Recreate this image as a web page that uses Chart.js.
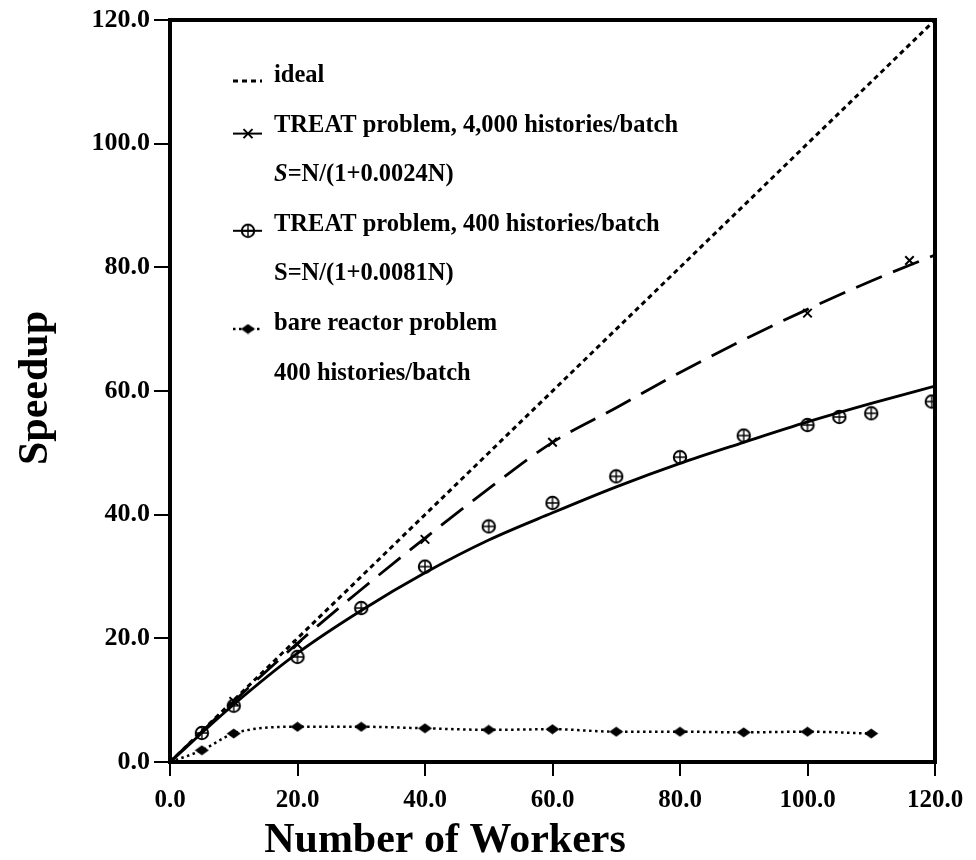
<!DOCTYPE html>
<html>
<head>
<meta charset="utf-8">
<title>Speedup vs Number of Workers</title>
<script src="https://cdn.jsdelivr.net/npm/chart.js@4.4.0/dist/chart.umd.min.js"></script>
<style>
  html, body { margin: 0; padding: 0; background: #fff; }
  canvas { display: block; }
</style>
</head>
<body>
<canvas id="speedupChart" width="976" height="860"></canvas>
<script>
// values
const idealWorkers = [0, 120];
const idealSpeedup = [0, 120];

const workers4000 = [0, 10, 20, 40, 60, 100, 116];
const speedup4000 = [0, 9.8, 19.0, 36.0, 51.7, 72.6, 81.1];

const workers400 = [5, 10, 20, 30, 40, 50, 60, 70, 80, 90, 100, 105, 110, 119.5];
const speedup400 = [4.7, 9.1, 17.0, 24.9, 31.6, 38.1, 41.9, 46.2, 49.3, 52.8, 54.5, 55.8, 56.4, 58.3];

// the two fitted curves
const fitWorkers = [0, 10, 20, 30, 40, 50, 60, 70, 80, 90, 100, 110, 120];
const fit4000 = [0, 9.8, 19.2, 27.9, 36.2, 44.2, 51.7, 57.3, 63.0, 68.3, 73.2, 77.8, 82.0];
const fit400 = [0, 9.3, 17.6, 24.5, 30.6, 35.9, 40.3, 44.5, 48.3, 51.7, 55.0, 58.0, 60.8];

const workersBare = [0, 5, 10, 20, 30, 40, 50, 60, 70, 80, 90, 100, 110];
const speedupBare = [0, 1.9, 4.6, 5.7, 5.7, 5.45, 5.2, 5.3, 4.9, 4.9, 4.8, 4.9, 4.6];

const xTitle = 'Number of Workers';
const yTitle = 'Speedup';

const legendRows = [
  { symbol: 'dash', text: 'ideal' },
  { symbol: 'cross', text: 'TREAT problem, 4,000 histories/batch' },
  { symbol: null, text: 'S=N/(1+0.0024N)', italicLead: true },
  { symbol: 'oplus', text: 'TREAT problem, 400 histories/batch' },
  { symbol: null, text: 'S=N/(1+0.0081N)' },
  { symbol: 'diamond', text: 'bare reactor problem' },
  { symbol: null, text: '400 histories/batch' }
];

const FONT = '"Liberation Serif", "Times New Roman", serif';

const toPoints = (xs, ys) => xs.map((x, i) => ({ x, y: ys[i] }));

const makeMarker = (w, h, draw) => {
  const c = document.createElement('canvas');
  c.width = w;
  c.height = h;
  draw(c.getContext('2d'), w, h);
  return c;
};

const oplusMarker = makeMarker(16, 16, (g) => {
  g.strokeStyle = '#000';
  g.lineWidth = 2;
  g.beginPath();
  g.arc(8, 8, 6.2, 0, Math.PI * 2);
  g.stroke();
  g.lineWidth = 1.4;
  g.beginPath();
  g.moveTo(2.5, 8); g.lineTo(13.5, 8);
  g.moveTo(8, 2.5); g.lineTo(8, 13.5);
  g.stroke();
});

const diamondMarker = makeMarker(15, 11, (g, w, h) => {
  g.fillStyle = '#000';
  g.beginPath();
  g.moveTo(0.5, h / 2);
  g.lineTo(w / 2, 0.5);
  g.lineTo(w - 0.5, h / 2);
  g.lineTo(w / 2, h - 0.5);
  g.closePath();
  g.fill();
});

const drawCross = (ctx, x, y, r) => {
  ctx.beginPath();
  ctx.moveTo(x - r, y - r); ctx.lineTo(x + r, y + r);
  ctx.moveTo(x - r, y + r); ctx.lineTo(x + r, y - r);
  ctx.stroke();
};

// thick box round the plot
const framePlugin = {
  id: 'frame',
  afterDatasetsDraw(chart) {
    const { ctx, chartArea: a } = chart;
    ctx.save();
    ctx.strokeStyle = '#000';
    ctx.lineWidth = 4;
    ctx.strokeRect(a.left, a.top, a.right - a.left, a.bottom - a.top);
    ctx.restore();
  }
};

const legendPlugin = {
  id: 'figureLegend',
  afterDraw(chart) {
    const { ctx } = chart;
    const symLeft = 233, symRight = 262, symMid = 248, textX = 274;
    const firstBaseline = 82, rowGap = 49.6;

    ctx.save();
    ctx.fillStyle = '#000';
    ctx.strokeStyle = '#000';
    ctx.textBaseline = 'alphabetic';

    legendRows.forEach((row, i) => {
      const y = firstBaseline + i * rowGap;

      if (row.symbol === 'dash') {
        ctx.lineWidth = 3;
        ctx.setLineDash([5, 4]);
        ctx.beginPath(); ctx.moveTo(symLeft, y - 1); ctx.lineTo(symRight, y - 1); ctx.stroke();
        ctx.setLineDash([]);
      }
      if (row.symbol === 'cross') {
        ctx.lineWidth = 2;
        ctx.beginPath(); ctx.moveTo(symLeft, y + 2); ctx.lineTo(symRight, y + 2); ctx.stroke();
        ctx.lineWidth = 2;
        drawCross(ctx, symMid, y + 2, 4.5);
      }
      if (row.symbol === 'oplus') {
        ctx.lineWidth = 2;
        ctx.beginPath(); ctx.moveTo(symLeft, y); ctx.lineTo(symRight, y); ctx.stroke();
        ctx.drawImage(oplusMarker, symMid - 8, y - 8);
      }
      if (row.symbol === 'diamond') {
        ctx.lineWidth = 2.5;
        ctx.setLineDash([2.5, 3.5]);
        ctx.beginPath(); ctx.moveTo(symLeft, y - 1); ctx.lineTo(symRight, y - 1); ctx.stroke();
        ctx.setLineDash([]);
        ctx.drawImage(diamondMarker, symMid - 7.5, y - 6.5);
      }

      let x = textX;
      let text = row.text;
      if (row.italicLead) {
        ctx.font = 'italic bold 24.5px ' + FONT;
        ctx.fillText(text[0], x, y);
        x += ctx.measureText(text[0]).width;
        text = text.slice(1);
      }
      ctx.font = 'bold 24.5px ' + FONT;
      ctx.fillText(text, x, y);
    });

    // axis titles
    ctx.font = 'bold 42px ' + FONT;
    ctx.textAlign = 'center';
    ctx.fillText(xTitle, 445, 852);

    ctx.translate(47, 388);
    ctx.rotate(-Math.PI / 2);
    ctx.fillText(yTitle, 0, 0);
    ctx.restore();
  }
};

const xTickFont = { family: FONT, size: 25, weight: 'bold' };
const yTickFont = { family: FONT, size: 26, weight: 'bold' };

const speedupChart = new Chart(document.getElementById('speedupChart'), {
  type: 'line',
  data: {
    datasets: [
      {
        label: 'ideal',
        data: toPoints(idealWorkers, idealSpeedup),
        borderColor: '#000',
        borderWidth: 3,
        borderDash: [5, 4],
        pointRadius: 0
      },
      {
        label: 'S=N/(1+0.0024N)',
        data: toPoints(fitWorkers, fit4000),
        borderColor: '#000',
        borderWidth: 2.8,
        borderDash: [28, 12],
        cubicInterpolationMode: 'monotone',
        pointRadius: 0
      },
      {
        label: 'S=N/(1+0.0081N)',
        data: toPoints(fitWorkers, fit400),
        borderColor: '#000',
        borderWidth: 2.8,
        cubicInterpolationMode: 'monotone',
        pointRadius: 0
      },
      {
        label: 'TREAT problem, 4,000 histories/batch',
        data: toPoints(workers4000, speedup4000),
        showLine: false,
        pointStyle: 'crossRot',
        pointRadius: 6,
        pointBorderWidth: 2,
        pointBorderColor: '#000'
      },
      {
        label: 'TREAT problem, 400 histories/batch',
        data: toPoints(workers400, speedup400),
        showLine: false,
        pointStyle: oplusMarker,
        pointRadius: 6
      },
      {
        label: 'bare reactor problem, 400 histories/batch',
        data: toPoints(workersBare, speedupBare),
        borderColor: '#000',
        borderWidth: 2.5,
        borderDash: [2.5, 3.5],
        cubicInterpolationMode: 'monotone',
        pointStyle: diamondMarker,
        pointRadius: (c) => c.dataIndex === 0 ? 0 : 6
      }
    ]
  },
  options: {
    responsive: false,
    animation: false,
    devicePixelRatio: 1,
    layout: { padding: { left: 0, right: 41, top: 20, bottom: 0 } },
    plugins: {
      legend: { display: false },
      tooltip: { enabled: false }
    },
    scales: {
      x: {
        type: 'linear',
        min: 0,
        max: 120,
        ticks: { stepSize: 20, color: '#000', font: xTickFont, padding: 10, maxRotation: 0, callback: (v) => v.toFixed(1) },
        grid: { drawOnChartArea: false, drawTicks: true, tickLength: 14, color: '#000', lineWidth: 2 },
        border: { display: true, color: '#000', width: 4 },
        afterFit: (s) => { s.height = 98; }
      },
      y: {
        type: 'linear',
        min: 0,
        max: 120,
        ticks: { stepSize: 20, color: '#000', font: yTickFont, padding: 4, callback: (v) => v.toFixed(1) },
        grid: { drawOnChartArea: false, drawTicks: true, tickLength: 16, color: '#000', lineWidth: 2 },
        border: { display: true, color: '#000', width: 4 },
        afterFit: (s) => { s.width = 170; }
      }
    }
  },
  plugins: [framePlugin, legendPlugin]
});
</script>
</body>
</html>
